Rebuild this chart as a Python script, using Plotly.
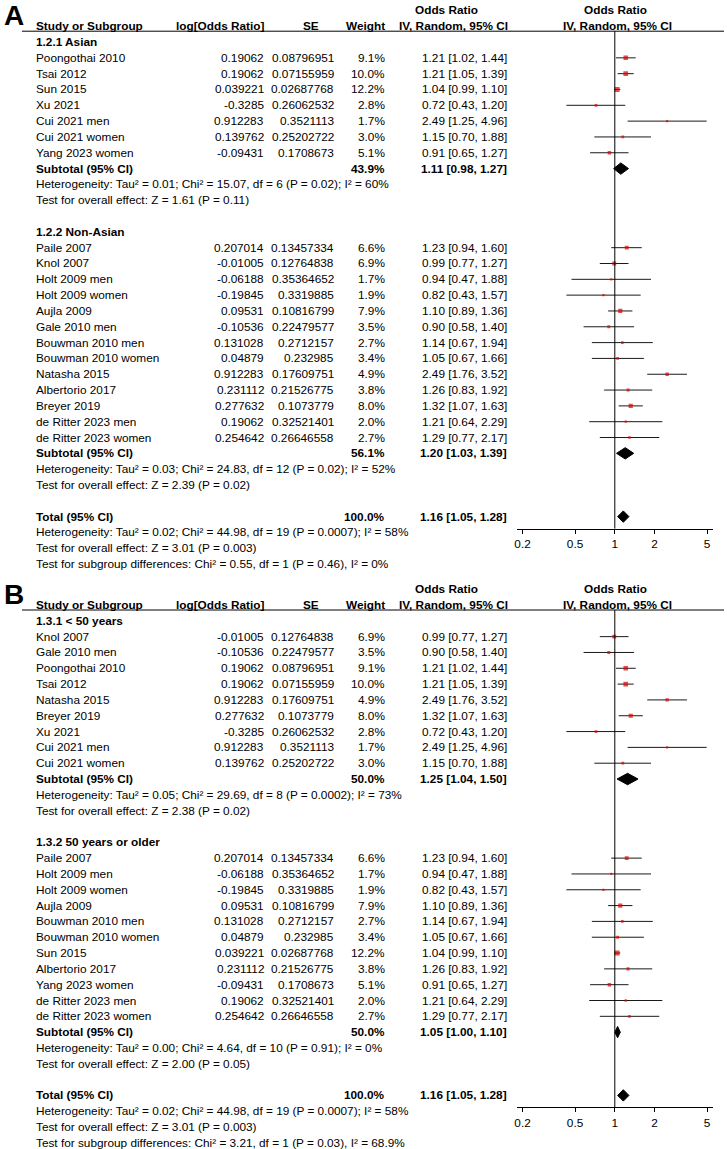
import plotly.graph_objects as go

W, H = 727, 1149
FONT = "Liberation Sans, Arial, sans-serif"
FS = 11.8

# ---------------- data ----------------
studies = ["Poongothai 2010", "Tsai 2012", "Sun 2015", "Xu 2021", "Cui 2021 men", "Cui 2021 women",
           "Yang 2023 women", "Paile 2007", "Knol 2007", "Holt 2009 men", "Holt 2009 women", "Aujla 2009",
           "Gale 2010 men", "Bouwman 2010 men", "Bouwman 2010 women", "Natasha 2015", "Albertorio 2017",
           "Breyer 2019", "de Ritter 2023 men", "de Ritter 2023 women"]
log_or = [0.19062, 0.19062, 0.039221, -0.3285, 0.912283, 0.139762, -0.09431, 0.207014, -0.01005, -0.06188,
          -0.19845, 0.09531, -0.10536, 0.131028, 0.04879, 0.912283, 0.231112, 0.277632, 0.19062, 0.254642]
se = [0.08796951, 0.07155959, 0.02687768, 0.26062532, 0.3521113, 0.25202722, 0.1708673, 0.13457334,
      0.12764838, 0.35364652, 0.3319885, 0.10816799, 0.22479577, 0.2712157, 0.232985, 0.17609751,
      0.21526775, 0.1073779, 0.32521401, 0.26646558]
weight = [9.1, 10.0, 12.2, 2.8, 1.7, 3.0, 5.1, 6.6, 6.9, 1.7, 1.9, 7.9, 3.5, 2.7, 3.4, 4.9, 3.8, 8.0, 2.0, 2.7]
odds = [1.21, 1.21, 1.04, 0.72, 2.49, 1.15, 0.91, 1.23, 0.99, 0.94, 0.82, 1.10, 0.90, 1.14, 1.05, 2.49,
        1.26, 1.32, 1.21, 1.29]
ci_low = [1.02, 1.05, 0.99, 0.43, 1.25, 0.70, 0.65, 0.94, 0.77, 0.47, 0.43, 0.89, 0.58, 0.67, 0.67, 1.76,
          0.83, 1.07, 0.64, 0.77]
ci_high = [1.44, 1.39, 1.10, 1.20, 4.96, 1.88, 1.27, 1.60, 1.27, 1.88, 1.57, 1.36, 1.40, 1.94, 1.66, 3.52,
           1.92, 1.63, 2.29, 2.17]

# Panel A (ethnicity)
A_titles = ["1.2.1 Asian", "1.2.2 Non-Asian"]
A_members = [
    ["Poongothai 2010", "Tsai 2012", "Sun 2015", "Xu 2021", "Cui 2021 men", "Cui 2021 women", "Yang 2023 women"],
    ["Paile 2007", "Knol 2007", "Holt 2009 men", "Holt 2009 women", "Aujla 2009", "Gale 2010 men",
     "Bouwman 2010 men", "Bouwman 2010 women", "Natasha 2015", "Albertorio 2017", "Breyer 2019",
     "de Ritter 2023 men", "de Ritter 2023 women"],
]
A_sub_weight = [43.9, 56.1]
A_sub_or = [1.11, 1.20]
A_sub_low = [0.98, 1.03]
A_sub_high = [1.27, 1.39]
A_het = ["Heterogeneity: Tau² = 0.01; Chi² = 15.07, df = 6 (P = 0.02); I² = 60%",
         "Heterogeneity: Tau² = 0.03; Chi² = 24.83, df = 12 (P = 0.02); I² = 52%"]
A_test = ["Test for overall effect: Z = 1.61 (P = 0.11)",
          "Test for overall effect: Z = 2.39 (P = 0.02)"]
A_subgroup = "Test for subgroup differences: Chi² = 0.55, df = 1 (P = 0.46), I² = 0%"

# Panel B (age)
B_titles = ["1.3.1 < 50 years", "1.3.2 50 years or older"]
B_members = [
    ["Knol 2007", "Gale 2010 men", "Poongothai 2010", "Tsai 2012", "Natasha 2015", "Breyer 2019", "Xu 2021",
     "Cui 2021 men", "Cui 2021 women"],
    ["Paile 2007", "Holt 2009 men", "Holt 2009 women", "Aujla 2009", "Bouwman 2010 men", "Bouwman 2010 women",
     "Sun 2015", "Albertorio 2017", "Yang 2023 women", "de Ritter 2023 men", "de Ritter 2023 women"],
]
B_sub_weight = [50.0, 50.0]
B_sub_or = [1.25, 1.05]
B_sub_low = [1.04, 1.00]
B_sub_high = [1.50, 1.10]
B_het = ["Heterogeneity: Tau² = 0.05; Chi² = 29.69, df = 8 (P = 0.0002); I² = 73%",
         "Heterogeneity: Tau² = 0.00; Chi² = 4.64, df = 10 (P = 0.91); I² = 0%"]
B_test = ["Test for overall effect: Z = 2.38 (P = 0.02)",
          "Test for overall effect: Z = 2.00 (P = 0.05)"]
B_subgroup = "Test for subgroup differences: Chi² = 3.21, df = 1 (P = 0.03), I² = 68.9%"

total_weight = 100.0
total_or, total_low, total_high = 1.16, 1.05, 1.28
total_het = "Heterogeneity: Tau² = 0.02; Chi² = 44.98, df = 19 (P = 0.0007); I² = 58%"
total_test = "Test for overall effect: Z = 3.01 (P = 0.003)"

tick_vals = [0.2, 0.5, 1, 2, 5]
tick_text = ["0.2", "0.5", "1", "2", "5"]

# ---------------- layout helpers ----------------
DY = 15.82
X_NAME, X_LOG, X_SE, X_W, X_OR = 33, 264, 334, 385, 507
X_AX0, X_AX1 = 516, 713


def px(p):
    return p / W


def py(p):
    return 1 - p / H


annotations = []
shapes = []
fig = go.Figure()


def txt(x, y, s, anchor="left", bold=False, size=FS):
    if bold:
        s = "<b>" + s + "</b>"
    annotations.append(dict(x=px(x), y=py(y), xref="paper", yref="paper", text=s, showarrow=False,
                            xanchor=anchor, yanchor="middle", font=dict(family=FONT, size=size, color="black"),
                            borderpad=0))


def panel(letter, row0, titles, members, sub_w, sub_or, sub_lo, sub_hi, het, test, subgroup, xa, ya):
    ypix = lambda k: row0 + DY * k
    txt(1, row0 - 11, letter, bold=True, size=28)
    txt(X_NAME, ypix(0), "Study or Subgroup", bold=True)
    txt(265, ypix(0), "log[Odds Ratio]", "right", bold=True)
    txt(319, ypix(0), "SE", "right", bold=True)
    txt(X_W, ypix(0), "Weight", "right", bold=True)
    txt(446, ypix(0) - 16, "Odds Ratio", "center", bold=True)
    txt(453, ypix(0), "IV, Random, 95% CI", "center", bold=True)
    txt(615, ypix(0) - 16, "Odds Ratio", "center", bold=True)
    txt(617, ypix(0), "IV, Random, 95% CI", "center", bold=True)
    shapes.append(dict(type="line", xref="paper", yref="paper", x0=px(20), x1=px(724),
                       y0=py(ypix(0) + 5), y1=py(ypix(0) + 5), line=dict(color="black", width=1)))

    ci_x, ci_y, sq_x, sq_y, sq_s = [], [], [], [], []
    diamonds = []
    k = 1
    for g in range(len(titles)):
        txt(X_NAME, ypix(k), titles[g], bold=True)
        k += 1
        for name in members[g]:
            i = studies.index(name)
            txt(X_NAME, ypix(k), name)
            txt(X_LOG, ypix(k), str(log_or[i]), "right")
            txt(X_SE, ypix(k), str(se[i]), "right")
            txt(X_W, ypix(k), f"{weight[i]:.1f}%", "right")
            txt(X_OR, ypix(k), f"{odds[i]:.2f} [{ci_low[i]:.2f}, {ci_high[i]:.2f}]", "right")
            ci_x += [ci_low[i], ci_high[i], None]
            ci_y += [k, k, None]
            sq_x.append(odds[i])
            sq_y.append(k)
            sq_s.append(1.35 * weight[i] ** 0.5 + 0.4)
            k += 1
        txt(X_NAME, ypix(k), "Subtotal (95% CI)", bold=True)
        txt(X_W, ypix(k), f"{sub_w[g]:.1f}%", "right", bold=True)
        txt(X_OR, ypix(k), f"{sub_or[g]:.2f} [{sub_lo[g]:.2f}, {sub_hi[g]:.2f}]", "right", bold=True)
        diamonds.append((sub_or[g], sub_lo[g], sub_hi[g], k))
        k += 1
        txt(X_NAME, ypix(k), het[g])
        k += 1
        txt(X_NAME, ypix(k), test[g])
        k += 2
    txt(X_NAME, ypix(k), "Total (95% CI)", bold=True)
    txt(X_W, ypix(k), f"{total_weight:.1f}%", "right", bold=True)
    txt(X_OR, ypix(k), f"{total_or:.2f} [{total_low:.2f}, {total_high:.2f}]", "right", bold=True)
    diamonds.append((total_or, total_low, total_high, k))
    total_k = k
    txt(X_NAME, ypix(k + 1), total_het)
    txt(X_NAME, ypix(k + 2), total_test)
    txt(X_NAME, ypix(k + 3), subgroup)

    axis_px = ypix(total_k) + 12
    top_px = ypix(0) + 5
    xkey = "xaxis" if xa == "x" else "xaxis" + xa[1:]
    ykey = "yaxis" if ya == "y" else "yaxis" + ya[1:]
    fig.update_layout(**{
        xkey: dict(type="log", domain=[px(X_AX0), px(X_AX1)], range=[-0.744, 0.744], anchor=ya,
                   tickvals=tick_vals, ticktext=tick_text, showline=True, linecolor="black", linewidth=1,
                   ticks="outside", ticklen=4, tickcolor="black", showgrid=False, zeroline=False,
                   tickfont=dict(family=FONT, size=FS, color="black")),
        ykey: dict(domain=[py(axis_px), py(top_px)], range=[(axis_px - row0) / DY, (top_px - row0) / DY],
                   anchor=xa, visible=False, showgrid=False, zeroline=False),
    })
    shapes.append(dict(type="line", xref=xa, yref=ya + " domain", x0=1, x1=1, y0=0, y1=1,
                       line=dict(color="black", width=1)))
    fig.add_trace(go.Scatter(x=ci_x, y=ci_y, mode="lines", line=dict(color="#1a1a1a", width=1),
                             xaxis=xa, yaxis=ya, hoverinfo="skip", cliponaxis=False))
    fig.add_trace(go.Scatter(x=sq_x, y=sq_y, mode="markers", xaxis=xa, yaxis=ya, hoverinfo="skip",
                             marker=dict(symbol="square", color="#dd0000", size=sq_s, line=dict(width=0))))
    h = 0.36
    for est, lo, hi, kk in diamonds:
        fig.add_trace(go.Scatter(x=[lo, est, hi, est, lo], y=[kk, kk - h, kk, kk + h, kk], mode="lines",
                                 fill="toself", fillcolor="black", line=dict(color="black", width=1),
                                 xaxis=xa, yaxis=ya, hoverinfo="skip"))


panel("A", 26.2, A_titles, A_members, A_sub_weight, A_sub_or, A_sub_low, A_sub_high, A_het, A_test,
      A_subgroup, "x", "y")
panel("B", 605.0, B_titles, B_members, B_sub_weight, B_sub_or, B_sub_low, B_sub_high, B_het, B_test,
      B_subgroup, "x2", "y2")

fig.update_layout(width=W, height=H, margin=dict(l=0, r=0, t=0, b=0), paper_bgcolor="white",
                  plot_bgcolor="white", showlegend=False, annotations=annotations, shapes=shapes,
                  hovermode=False)
fig.write_html("out.html", config={"responsive": False, "displayModeBar": False},
               post_script="document.body.style.margin='0';document.body.style.overflow='hidden';")
